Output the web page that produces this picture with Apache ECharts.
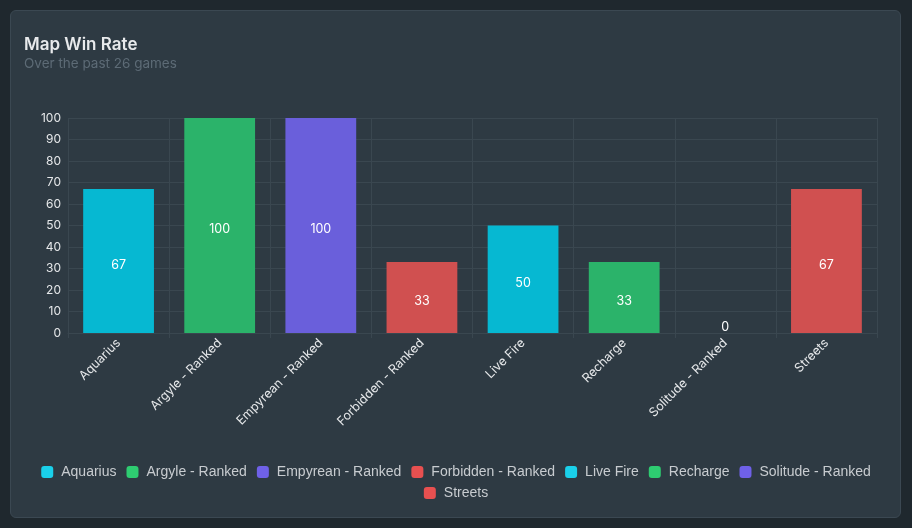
<!DOCTYPE html>
<html><head><meta charset="utf-8">
<script src="https://cdn.jsdelivr.net/npm/echarts@6/dist/echarts.min.js"></script>
<style>
html,body{margin:0;padding:0;background:#1f282e;width:912px;height:528px;overflow:hidden;}
#card{position:absolute;left:10px;top:10px;width:889px;height:506px;background:#2e3a43;border:1px solid #3b4852;border-radius:6px;}
#chart{position:absolute;left:0;top:0;width:912px;height:528px;}
</style></head>
<body><div id="card"></div><div id="chart"></div>
<script>
const categories = ["Aquarius","Argyle - Ranked","Empyrean - Ranked","Forbidden - Ranked","Live Fire","Recharge","Solitude - Ranked","Streets"];
const winRates = [67,100,100,33,50,33,0,67];
const barColors = ["#06b8d2","#2bb36a","#6a5fdb","#d05050","#06b8d2","#2bb36a","#6a5fdb","#d05050"];
const legendColors = ["#1ad0ea","#2ecc71","#6f61e8","#e85050","#1ad0ea","#2ecc71","#6f61e8","#e85050"];
const yTicks = [0,10,20,30,40,50,60,70,80,90,100];

const FONT = "Inter";
const series = categories.map((name,i)=>({
  name: name,
  type: 'bar',
  stack: 'all',
  barWidth: '70%',
  itemStyle: {color: barColors[i]},
  data: categories.map((c,j)=> j===i ? {
      value: winRates[i],
      label: winRates[i]===0 ? {position:'insideBottom', distance:0, offset:[0,1]} : {}
    } : null),
  label: {show:true, position:'inside', color:'#ffffff', fontFamily:FONT, fontSize:12.5,
          offset:[0,4], formatter: p => p.value}
}));

const legendText = {color:'#c8ccd0', fontFamily:'Liberation Sans', fontSize:14, padding:[0,0,0,3]};
const legendItems = categories.map((c,i)=>({name:c, itemStyle:{color:legendColors[i]}}));

const chart = echarts.init(document.getElementById('chart'));
chart.setOption({
  animation:false,
  title:{text:'Map Win Rate', subtext:'Over the past 26 games', left:19, top:31,
    textStyle:{color:'#e8eaec', fontFamily:FONT, fontSize:17, fontWeight:600},
    subtextStyle:{color:'#5d6b76', fontFamily:FONT, fontSize:13.5}, itemGap:4},
  legend:[
    {top:460, left:'center', itemWidth:12, itemHeight:12, itemGap:10, icon:'roundRect',
     textStyle:legendText, data: legendItems.slice(0,7)},
    {top:481, left:'center', itemWidth:12, itemHeight:12, itemGap:10, icon:'roundRect',
     textStyle:legendText, data: legendItems.slice(7)}
  ],
  grid:{left:68, right:35, top:118, bottom:195},
  xAxis:{type:'category', data:categories,
    axisLine:{show:true, lineStyle:{color:'#3a4750'}},
    axisTick:{show:true, length:5, lineStyle:{color:'#3a4750'}},
    splitLine:{show:true, lineStyle:{color:'#3a4750'}},
    axisLabel:{rotate:45, color:'#e6e8ea', fontFamily:FONT, fontSize:12.5, margin:8, interval:0}},
  yAxis:{type:'value', min:yTicks[0], max:yTicks[yTicks.length-1], interval:10,
    axisLine:{show:false}, axisTick:{show:false},
    splitLine:{lineStyle:{color:'#3a4750'}},
    axisLabel:{color:'#e6e8ea', fontFamily:FONT, fontSize:12, margin:7}},
  series: series
});
</script></body></html>
